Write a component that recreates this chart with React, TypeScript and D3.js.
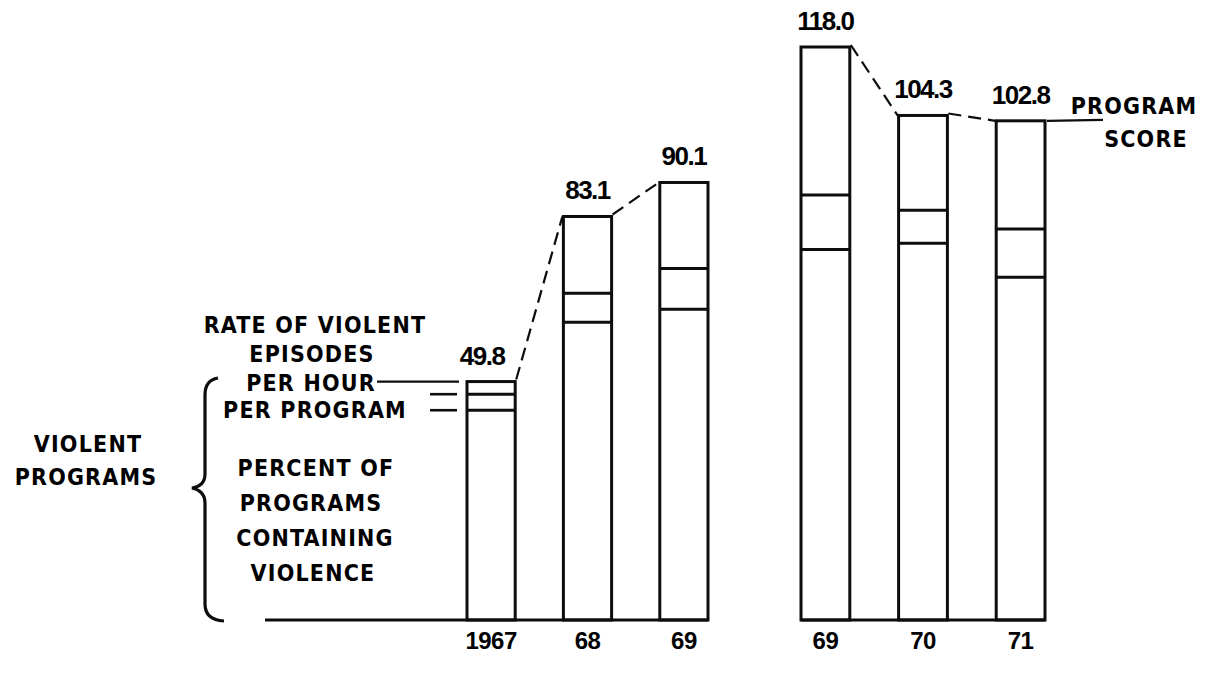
import React from 'react';
import * as d3 from 'd3';

// two runs of seasons, drawn as two separate groups of bars
const periodsA = ['1967', '68', '69'];
const periodsB = ['69', '70', '71'];

// segment heights, in program-score units, bottom to top (A then B)
const percentPrograms = [43.2, 61.3, 64.0, 76.3, 77.6, 70.6];
const ratePerProgram = [3.3, 6.0, 8.4, 11.2, 6.8, 9.9];
const ratePerHour = [2.6, 15.8, 17.7, 30.5, 19.5, 22.3];
const programScore = ['49.8', '83.1', '90.1', '118.0', '104.3', '102.8'];

const W = 1219;
const H = 676;
const numFont = '"Liberation Sans", Arial, sans-serif';
const capFont = '"DejaVu Sans Condensed", "DejaVu Sans", sans-serif';

const App = () => {
  const rows = percentPrograms.map((p, i) => ({
    percent: p,
    perProgram: ratePerProgram[i],
    perHour: ratePerHour[i],
  }));
  const stacked = d3.stack().keys(['percent', 'perProgram', 'perHour'])(rows);
  const tops = rows.map((_, i) => stacked[2][i][1]);

  const y = d3.scaleLinear().domain([0, 118]).range([620, 47]);

  const xA = d3.scaleBand().domain(periodsA).range([467, 708]).paddingInner(0.5).paddingOuter(0);
  const xB = d3.scaleBand().domain(periodsB).range([801, 1045]).paddingInner(0.5).paddingOuter(0);

  const groups = [
    { x: xA, keys: periodsA, offset: 0 },
    { x: xB, keys: periodsB, offset: periodsA.length },
  ];

  const stroke = '#0d0d0d';
  const sw = 3;
  const line = d3.line();

  const bars = [];
  const connectors = [];
  groups.forEach((g, gi) => {
    const bw = g.x.bandwidth();
    g.keys.forEach((k, j) => {
      const i = g.offset + j;
      const x0 = g.x(k);
      bars.push(
        <g key={`bar-${i}`}>
          <rect x={x0} y={y(tops[i])} width={bw} height={y(0) - y(tops[i])}
            fill="#fff" stroke={stroke} strokeWidth={sw} />
          {[stacked[0][i][1], stacked[1][i][1]].map((v, li) => (
            <path key={li} d={line([[x0, y(v)], [x0 + bw, y(v)]])} stroke={stroke} strokeWidth={sw} />
          ))}
          <text x={x0 + bw / 2 - (i === 0 ? 9 : 0)} y={y(tops[i]) - 17} textAnchor="middle"
            fontFamily={numFont} fontWeight="bold" fontSize={26} letterSpacing={-1.5}>
            {programScore[i]}
          </text>
          <text x={x0 + bw / 2} y={649} textAnchor="middle"
            fontFamily={numFont} fontWeight="bold" fontSize={24} letterSpacing={-0.5}>
            {k}
          </text>
        </g>
      );
      if (j < g.keys.length - 1) {
        const nk = g.keys[j + 1];
        connectors.push(
          <path key={`c-${i}`}
            d={line([[x0 + bw + 1, y(tops[i]) - 2], [g.x(nk) - 1, y(tops[i + 1])]])}
            stroke={stroke} strokeWidth={2.2} strokeDasharray="13 7" fill="none" />
        );
      }
    });
    // baseline of each group
    const left = gi === 0 ? 265 : g.x(g.keys[0]);
    const right = g.x(g.keys[g.keys.length - 1]) + bw;
    bars.push(
      <path key={`base-${gi}`} d={line([[left, y(0)], [right, y(0)]])} stroke={stroke} strokeWidth={sw} />
    );
  });

  // annotation anchors taken from the first and last bars
  const first = xA(periodsA[0]);
  const last = xB(periodsB[2]) + xB.bandwidth();
  const capStyle = {
    fontFamily: capFont,
    fontWeight: 'bold',
    fontSize: 23,
    letterSpacing: 1.2,
  };

  const leftLabels = [
    { t: 'RATE OF VIOLENT', x: 315, y: 333 },
    { t: 'EPISODES', x: 312, y: 362 },
    { t: 'PER HOUR', x: 311, y: 391 },
    { t: 'PER PROGRAM', x: 315, y: 418 },
    { t: 'PERCENT OF', x: 316, y: 476 },
    { t: 'PROGRAMS', x: 311, y: 511 },
    { t: 'CONTAINING', x: 315, y: 546 },
    { t: 'VIOLENCE', x: 313, y: 581 },
    { t: 'VIOLENT', x: 88, y: 452 },
    { t: 'PROGRAMS', x: 86, y: 485 },
    { t: 'PROGRAM', x: 1134, y: 114 },
    { t: 'SCORE', x: 1146, y: 147 },
  ];

  return (
    <svg width={W} height={H} style={{ position: 'absolute', left: 0, top: 0, background: '#fff' }}>
      <rect width={W} height={H} fill="#fff" />
      {bars}
      {connectors}
      {leftLabels.map((l) => (
        <text key={l.t + l.y} x={l.x} y={l.y} textAnchor="middle" style={capStyle}>{l.t}</text>
      ))}
      {/* leader lines to the first bar */}
      <path d={line([[377, y(tops[0])], [first - 8, y(tops[0])]])} stroke={stroke} strokeWidth={2.2} />
      <path d={line([[430, y(stacked[1][0][1])], [first - 10, y(stacked[1][0][1])]])} stroke={stroke} strokeWidth={2.6} />
      <path d={line([[430, y(stacked[0][0][1])], [first - 10, y(stacked[0][0][1])]])} stroke={stroke} strokeWidth={2.6} />
      {/* leader to PROGRAM SCORE */}
      <path d={line([[last + 2, y(tops[5])], [last + 58, y(tops[5]) - 1]])} stroke={stroke} strokeWidth={2.2} />
      {/* brace */}
      <path d="M218,378 Q205,380 205,395 L205,474 Q205,486 192,488 Q205,491 205,503 L205,604 Q205,620 224,621"
        fill="none" stroke={stroke} strokeWidth={3.2} />
    </svg>
  );
};

export default App;
